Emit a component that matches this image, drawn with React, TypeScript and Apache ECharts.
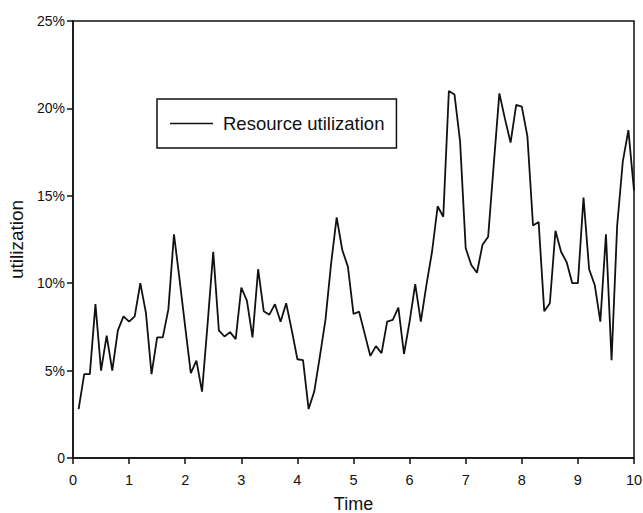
import React, { useEffect, useRef } from "react";
import * as echarts from "echarts";

// Resource utilization (%) sampled every 0.1 time unit, from t = 0.1 to t = 10
const utilization: number[] = [
  2.8, 4.8, 4.8, 8.8, 5.0, 7.0, 5.0, 7.3, 8.1, 7.8,
  8.1, 10.0, 8.3, 4.8, 6.9, 6.9, 8.5, 12.8, 10.2, 7.5,
  4.85, 5.57, 3.8, 7.7, 11.8, 7.3, 6.95, 7.2, 6.8, 9.75,
  9.0, 6.9, 10.8, 8.4, 8.2, 8.8, 7.8, 8.85, 7.3, 5.65,
  5.6, 2.8, 3.8, 5.8, 7.9, 11.1, 13.77, 11.9, 10.95, 8.24,
  8.37, 7.1, 5.84, 6.4, 6.0, 7.8, 7.9, 8.6, 5.95, 7.8,
  9.95, 7.8, 9.9, 11.8, 14.4, 13.8, 21.0, 20.8, 18.1, 12.0,
  11.04, 10.6, 12.2, 12.66, 16.8, 20.86, 19.4, 18.04, 20.2, 20.1,
  18.4, 13.3, 13.5, 8.4, 8.85, 13.0, 11.8, 11.2, 10.0, 10.0,
  14.9, 10.8, 9.9, 7.8, 12.8, 5.6, 13.3, 16.95, 18.76, 15.3,
];
const timeStep = 0.1;
const times: number[] = utilization.map((_, i) => Math.round((i + 1) * timeStep * 10) / 10);

const seriesName = "Resource utilization";
const xName = "Time";
const yName = "utilization";

const FONT = "'Liberation Sans', Arial, sans-serif";
const INK = "#111";

export default function App() {
  const ref = useRef<HTMLDivElement>(null);

  useEffect(() => {
    document.body.style.margin = "0";
    if (!ref.current) return;
    const chart = echarts.init(ref.current, undefined, { renderer: "svg" });
    chart.setOption({
      animation: false,
      backgroundColor: "#fff",
      textStyle: { fontFamily: FONT, color: INK },
      grid: {
        left: 73,
        right: 9,
        top: 21,
        bottom: 55,
        show: true,
        borderColor: INK,
        borderWidth: 1.5,
        containLabel: false,
        outerBoundsMode: "none",
      },
      legend: {
        show: true,
        left: 157,
        top: 99,
        orient: "horizontal",
        padding: [15, 12, 15, 13],
        borderColor: INK,
        borderWidth: 1.5,
        itemWidth: 43,
        itemHeight: 14,
        icon: "path://M0,7 L43,7 L43,8.5 L0,8.5 Z",
        data: [{ name: seriesName, itemStyle: { color: INK } }],
        textStyle: {
          fontFamily: FONT,
          fontSize: 18.5,
          color: INK,
          padding: [0, 0, 0, 5],
        },
      },
      xAxis: {
        type: "value",
        min: 0,
        max: 10,
        interval: 1,
        name: xName,
        nameLocation: "middle",
        nameGap: 37,
        nameTextStyle: { fontFamily: FONT, fontSize: 18, color: INK },
        axisLine: { show: true, lineStyle: { color: INK, width: 1.5 } },
        axisTick: { show: true, length: 6, inside: false, lineStyle: { color: INK, width: 1.5 } },
        axisLabel: { fontFamily: FONT, fontSize: 14.5, color: INK, margin: 14 },
        splitLine: { show: false },
      },
      yAxis: {
        type: "value",
        min: 0,
        max: 25,
        interval: 5,
        name: yName,
        nameLocation: "middle",
        nameGap: 40,
        nameTextStyle: { fontFamily: FONT, fontSize: 19, color: INK },
        axisLine: { show: true, lineStyle: { color: INK, width: 1.5 } },
        axisTick: { show: true, length: 6, inside: false, lineStyle: { color: INK, width: 1.5 } },
        axisLabel: {
          fontFamily: FONT,
          fontSize: 14,
          color: INK,
          margin: 8,
          formatter: (v: number) => (v === 0 ? "0" : `${v}%`),
        },
        splitLine: { show: false },
      },
      series: [
        {
          name: seriesName,
          type: "line",
          data: times.map((t, i) => [t, utilization[i]]),
          symbol: "none",
          showSymbol: false,
          lineStyle: { color: INK, width: 1.8 },
          itemStyle: { color: INK },
        },
      ],
    });
    return () => chart.dispose();
  }, []);

  return (
    <div
      ref={ref}
      style={{ position: "absolute", left: 0, top: 0, width: 643, height: 513 }}
    />
  );
}
